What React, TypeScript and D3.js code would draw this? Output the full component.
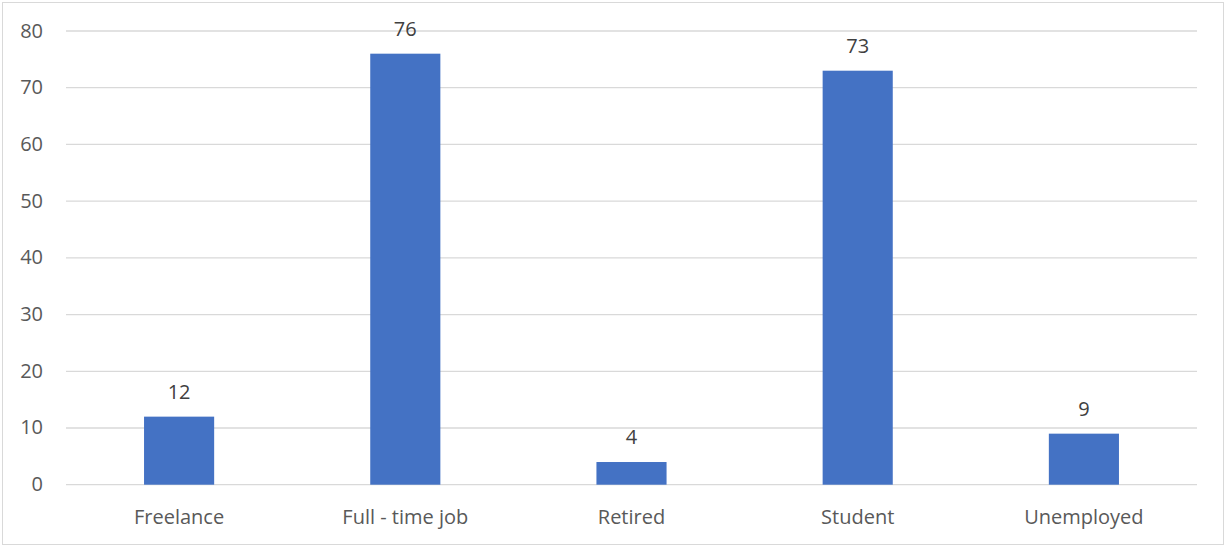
import React from "react";
import * as d3 from "d3";

const categories = ["Freelance", "Full - time job", "Retired", "Student", "Unemployed"];
const values = [12, 76, 4, 73, 9];
const yTicks = [0, 10, 20, 30, 40, 50, 60, 70, 80];

const W = 1226;
const H = 547;
const left = 66;
const right = 1197;
const top = 31;
const bottom = 484.7;

export default function App() {
  const x = d3.scaleBand<string>().domain(categories).range([left, right]).paddingInner(0.69).paddingOuter(0.345);
  const y = d3.scaleLinear().domain([0, 80]).range([bottom, top]);
  const font = "'Open Sans', sans-serif";
  return (
    <svg width={W} height={H} style={{ position: "absolute", left: 0, top: 0 }}>
      <rect x={0} y={0} width={W} height={H} fill="#fff" />
      <rect x={2.5} y={2.5} width={W - 5} height={H - 5} fill="none" stroke="#d9d9d9" strokeWidth={1} />
      {yTicks.map((t) => (
        <g key={t}>
          <line x1={left} x2={right} y1={y(t)} y2={y(t)} stroke="#d9d9d9" strokeWidth={1.3} />
          <text x={43} y={y(t) + 6.5} textAnchor="end" fontFamily={font} fontSize={20} fill="#595959">
            {t}
          </text>
        </g>
      ))}
      {categories.map((c, i) => (
        <g key={c}>
          <rect x={x(c)} y={y(values[i])} width={x.bandwidth()} height={bottom - y(values[i])} fill="#4472C4" />
          <text x={(x(c) as number) + x.bandwidth() / 2} y={y(values[i]) - 18} textAnchor="middle" fontFamily={font} fontSize={20} fill="#404040">
            {values[i]}
          </text>
          <text x={(x(c) as number) + x.bandwidth() / 2} y={524} textAnchor="middle" fontFamily={font} fontSize={20} fill="#595959">
            {c}
          </text>
        </g>
      ))}
    </svg>
  );
}
